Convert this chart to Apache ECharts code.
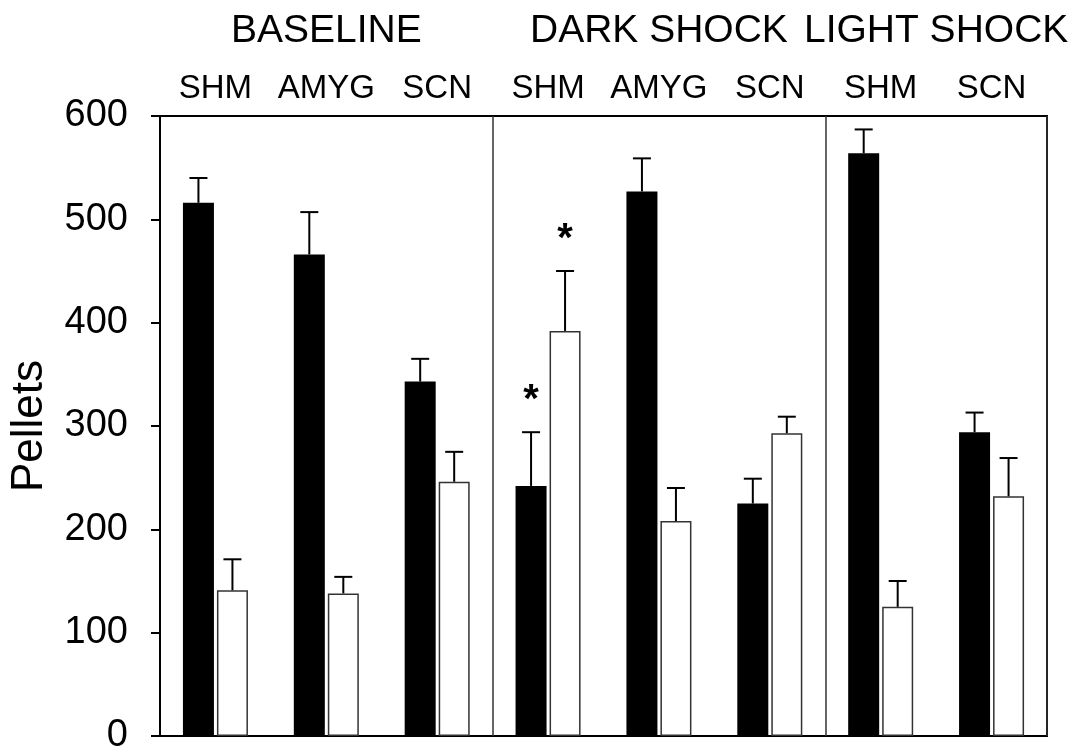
<!DOCTYPE html>
<html>
<head>
<meta charset="utf-8">
<title>Pellets by condition and lesion group</title>
<script src="https://cdn.jsdelivr.net/npm/echarts@6/dist/echarts.min.js"></script>
<style>
  html, body { margin: 0; padding: 0; background: #fff; }
  #chart { width: 1073px; height: 755px; }
</style>
</head>
<body>
<div id="chart"></div>
<script>
// Lesion groups, in order along the x axis
const categories = ['SHM', 'AMYG', 'SCN', 'SHM', 'AMYG', 'SCN', 'SHM', 'SCN'];

// Test conditions and the category indices each one covers
const conditionNames = ['BASELINE', 'DARK SHOCK', 'LIGHT SHOCK'];
const conditionFrom = [0, 3, 6];
const conditionTo = [2, 5, 7];

// Filled bars: mean pellets and SEM
const filledMeans = [516, 466, 343, 242, 527, 225, 564, 294];
const filledSem = [24, 41, 22, 52, 32, 24, 23, 19];

// Open bars: mean pellets and SEM
const openMeans = [141, 138, 246, 392, 208, 293, 125, 232];
const openSem = [30, 16, 29, 58, 32, 16, 25, 37];

// Significance markers (1 = asterisk above the bar)
const filledSig = [0, 0, 0, 1, 0, 0, 0, 0];
const openSig = [0, 0, 0, 1, 0, 0, 0, 0];

// Y axis
const yMin = 0, yMax = 600, yStep = 100;

const FONT = '"Liberation Sans", Arial, Helvetica, sans-serif';
const BAR_W = 31;
const BAR_GAP = 3;

const chart = echarts.init(document.getElementById('chart'), null, { renderer: 'canvas' });

function errorSeries(name, means, sems, sig, side) {
  return {
    name: name + ' SEM',
    type: 'custom',
    xAxisIndex: 0,
    yAxisIndex: 0,
    z: 5,
    silent: true,
    data: means.map((m, i) => [i, m, sems[i], sig[i]]),
    renderItem(params, api) {
      const c = api.value(0), m = api.value(1), e = api.value(2), s = api.value(3);
      const base = api.coord([c, m]);
      const top = api.coord([c, m + e]);
      const x = base[0] + side * (BAR_W + BAR_GAP) / 2;
      const half = 9;
      const children = [
        { type: 'line', shape: { x1: x, y1: base[1], x2: x, y2: top[1] },
          style: { stroke: '#000', lineWidth: 2 } },
        { type: 'line', shape: { x1: x - half, y1: top[1], x2: x + half, y2: top[1] },
          style: { stroke: '#000', lineWidth: 2 } }
      ];
      if (s) {
        children.push({
          type: 'text',
          x: x,
          y: top[1] - 31,
          style: { text: '*', fill: '#000', font: 'bold 40px ' + FONT,
                   textAlign: 'center', textVerticalAlign: 'middle' }
        });
      }
      return { type: 'group', children };
    }
  };
}

const option = {
  animation: false,
  backgroundColor: '#fff',
  grid: {
    left: 156, right: 26, top: 116, bottom: 14,
    show: true, borderColor: '#000', borderWidth: 2, backgroundColor: 'transparent'
  },
  xAxis: {
    type: 'category',
    position: 'top',
    data: categories,
    boundaryGap: true,
    axisLine: { show: false },
    axisTick: { show: false },
    axisLabel: { color: '#000', fontFamily: FONT, fontSize: 33, margin: 11, interval: 0 },
    splitLine: {
      show: true,
      interval: (index) => conditionFrom.indexOf(index) > 0,
      lineStyle: { color: '#333', width: 1.5 }
    }
  },
  yAxis: {
    type: 'value',
    min: yMin, max: yMax, interval: yStep,
    name: 'Pellets',
    nameLocation: 'middle',
    nameGap: 108,
    nameTextStyle: { color: '#000', fontFamily: FONT, fontSize: 44 },
    axisLine: { show: true, lineStyle: { color: '#000', width: 2 } },
    axisTick: { show: true, inside: false, length: 9, lineStyle: { color: '#000', width: 2 } },
    axisLabel: { color: '#000', fontFamily: FONT, fontSize: 38, margin: 32 },
    splitLine: { show: false }
  },
  series: [
    {
      name: 'Filled',
      type: 'bar',
      data: filledMeans,
      barWidth: BAR_W,
      barGap: (BAR_GAP / BAR_W * 100).toFixed(1) + '%',
      itemStyle: { color: '#000' },
      z: 3
    },
    {
      name: 'Open',
      type: 'bar',
      data: openMeans,
      barWidth: BAR_W,
      itemStyle: { color: '#fff', borderColor: '#333', borderWidth: 1.5 },
      z: 3
    },
    errorSeries('Filled', filledMeans, filledSem, filledSig, -1),
    errorSeries('Open', openMeans, openSem, openSig, 1)
  ]
};

chart.setOption(option);

// Condition headings centred over the categories they span
const px = (c) => chart.convertToPixel({ xAxisIndex: 0 }, c);
const step = px(1) - px(0);
chart.setOption({
  graphic: conditionNames.map((name, i) => ({
    type: 'text',
    x: px(conditionFrom[i]) + step * (conditionTo[i] - conditionFrom[i]) / 2,
    y: 31,
    style: { text: name, fill: '#000', font: '39px ' + FONT,
             textAlign: 'center', textVerticalAlign: 'middle' }
  }))
});
</script>
</body>
</html>
